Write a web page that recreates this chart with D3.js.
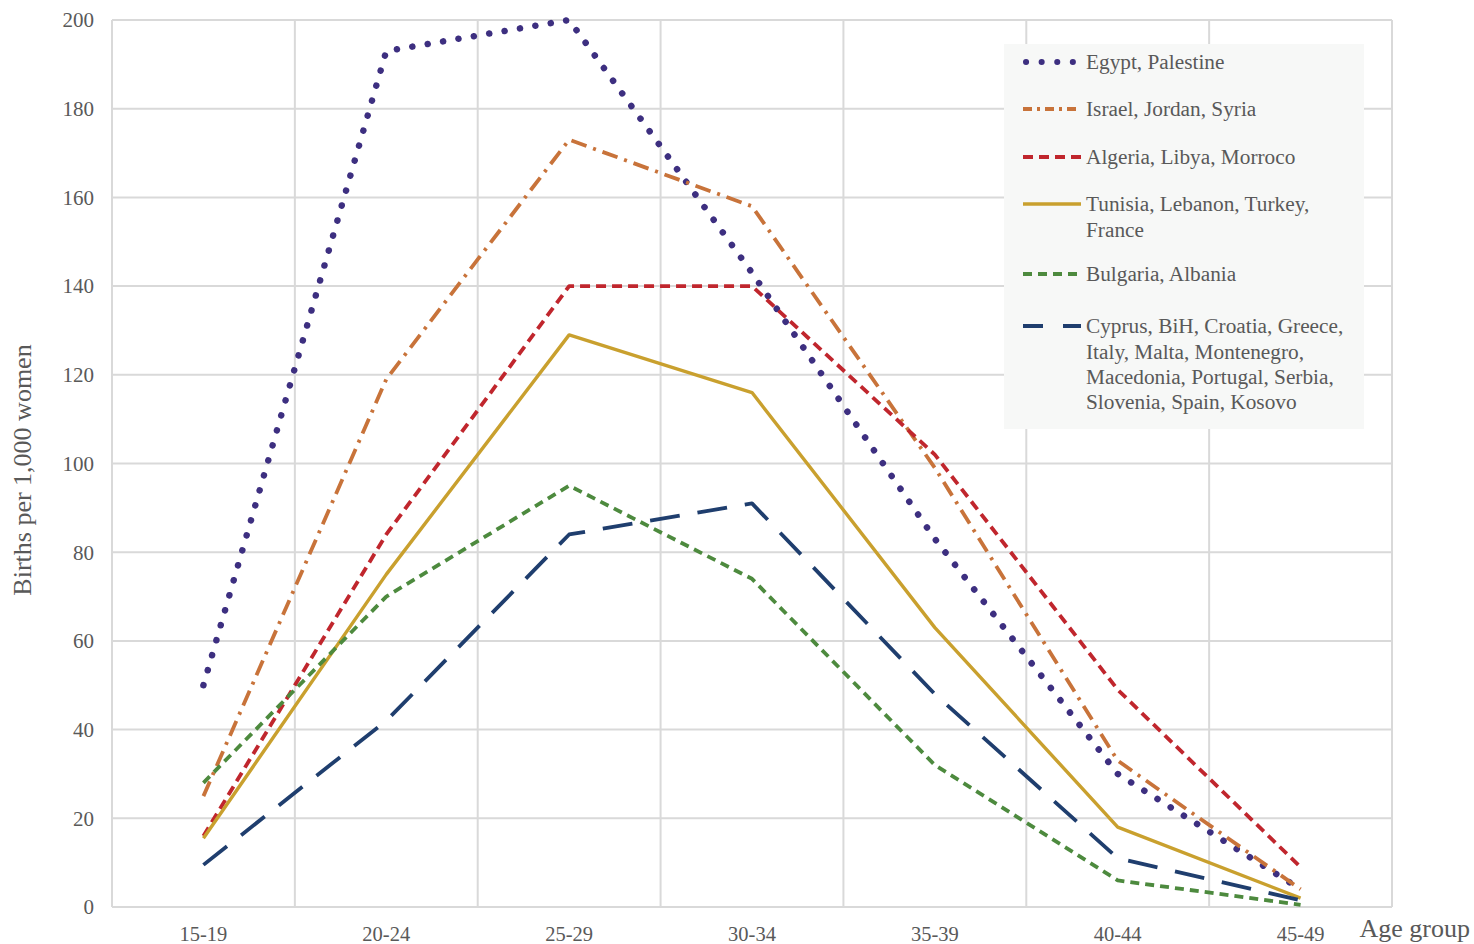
<!DOCTYPE html>
<html>
<head>
<meta charset="utf-8">
<script src="https://cdn.jsdelivr.net/npm/d3@7/dist/d3.min.js"></script>
<style>
  html, body { margin: 0; padding: 0; background: #ffffff; }
  svg { display: block; }
  text { font-family: "Liberation Serif", "DejaVu Serif", serif; fill: #595959; }
</style>
</head>
<body>
<svg id="chart" width="1474" height="944"></svg>
<script>
const categories = ["15-19", "20-24", "25-29", "30-34", "35-39", "40-44", "45-49"];
const yTicks = [0, 20, 40, 60, 80, 100, 120, 140, 160, 180, 200];

const egyptPalestine   = [50, 193, 200, 143, 83, 30, 4];
const israelJordanSyria = [25, 119, 173, 158, 99, 33, 4];
const algeriaLibyaMorroco = [16, 84, 140, 140, 102, 49, 9];
const tunisiaLebanonTurkeyFrance = [15.5, 75, 129, 116, 63, 18, 2];
const bulgariaAlbania = [28, 70, 95, 74, 32, 6, 0.5];
const cyprusEtc = [9.5, 42, 84, 91, 48, 11, 1.5];

const seriesNames = [
  ["Egypt, Palestine"],
  ["Israel, Jordan, Syria"],
  ["Algeria, Libya, Morroco"],
  ["Tunisia, Lebanon, Turkey,", "France"],
  ["Bulgaria, Albania"],
  ["Cyprus, BiH, Croatia, Greece,", "Italy, Malta, Montenegro,", "Macedonia, Portugal, Serbia,", "Slovenia, Spain, Kosovo"]
];
const seriesValues = [egyptPalestine, israelJordanSyria, algeriaLibyaMorroco,
  tunisiaLebanonTurkeyFrance, bulgariaAlbania, cyprusEtc];

const styles = [
  { color: "#3d2f80", width: 6.5, dash: "0.1 15.5", cap: "round", legDash: "0.1 15.5" },
  { color: "#c8733a", width: 3.8, dash: "16 7 3 7", cap: "butt", legDash: "9 5 3 5" },
  { color: "#c0262d", width: 3.8, dash: "10 6", cap: "butt", legDash: "10 6" },
  { color: "#c9a02e", width: 3.4, dash: null, cap: "butt", legDash: null },
  { color: "#4d8a3e", width: 3.8, dash: "9 6", cap: "butt", legDash: "9 6" },
  { color: "#1f3e6e", width: 3.8, dash: "30 18", cap: "butt", legDash: "20 20" }
];

const svg = d3.select("#chart");
const mLeft = 112, mRight = 1392, mTop = 20, mBottom = 907;

const x = d3.scaleBand().domain(categories).range([mLeft, mRight]);
const y = d3.scaleLinear().domain([0, 200]).range([mBottom, mTop]);

// Horizontal gridlines
svg.append("g").selectAll("line").data(yTicks).join("line")
  .attr("x1", mLeft).attr("x2", mRight)
  .attr("y1", d => y(d)).attr("y2", d => y(d))
  .attr("stroke", "#d9d9d9").attr("stroke-width", 2);

// Vertical gridlines at band edges
const edges = categories.map(c => x(c)).concat([mRight]);
svg.append("g").selectAll("line").data(edges).join("line")
  .attr("x1", d => d).attr("x2", d => d)
  .attr("y1", mTop).attr("y2", mBottom)
  .attr("stroke", "#d9d9d9").attr("stroke-width", 2);

// Y tick labels
svg.append("g").selectAll("text").data(yTicks).join("text")
  .attr("x", 94).attr("y", d => y(d))
  .attr("dy", "0.35em")
  .attr("text-anchor", "end")
  .attr("font-size", 21)
  .text(d => d);

// X tick labels
svg.append("g").selectAll("text").data(categories).join("text")
  .attr("x", d => x(d) + x.bandwidth() / 2)
  .attr("y", 941)
  .attr("text-anchor", "middle")
  .attr("font-size", 20.5)
  .text(d => d);

// Axis titles
svg.append("text")
  .attr("transform", "translate(31,470) rotate(-90)")
  .attr("text-anchor", "middle")
  .attr("font-size", 26)
  .text("Births per 1,000 women");

svg.append("text")
  .attr("x", 1470).attr("y", 937)
  .attr("text-anchor", "end")
  .attr("font-size", 26)
  .text("Age group");

// Lines
const line = d3.line()
  .x((d, i) => x(categories[i]) + x.bandwidth() / 2)
  .y(d => y(d));

seriesValues.forEach((vals, i) => {
  const s = styles[i];
  svg.append("path")
    .datum(vals)
    .attr("d", line)
    .attr("fill", "none")
    .attr("stroke", s.color)
    .attr("stroke-width", s.width)
    .attr("stroke-linecap", s.cap)
    .attr("stroke-linejoin", "round")
    .attr("stroke-dasharray", s.dash);
});

// Legend
const lg = svg.append("g");
lg.append("rect")
  .attr("x", 1004).attr("y", 44).attr("width", 360).attr("height", 385)
  .attr("fill", "#f7f8f7");

const legY = [62, 109, 157, 204, 274, 326];
seriesNames.forEach((lines, i) => {
  const s = styles[i];
  const yy = legY[i];
  lg.append("line")
    .attr("x1", i === 0 ? 1026 : 1023).attr("x2", i === 0 ? 1076 : 1081)
    .attr("y1", yy).attr("y2", yy)
    .attr("stroke", s.color)
    .attr("stroke-width", i === 0 ? 6 : s.width)
    .attr("stroke-linecap", s.cap)
    .attr("stroke-dasharray", s.legDash);
  lines.forEach((t, j) => {
    lg.append("text")
      .attr("x", 1086).attr("y", yy + j * 25.3)
      .attr("dy", "0.35em")
      .attr("font-size", 21.3)
      .text(t);
  });
});
</script>
</body>
</html>
